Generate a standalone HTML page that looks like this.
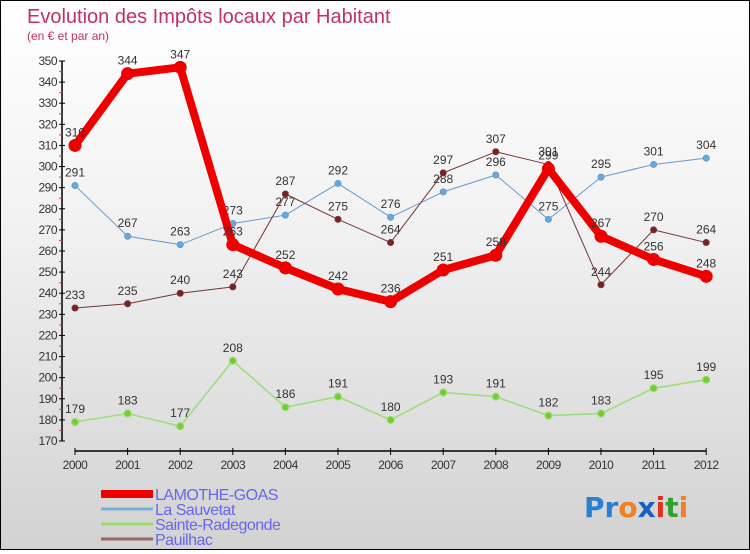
<!DOCTYPE html>
<html><head><meta charset="utf-8"><style>
html,body{margin:0;padding:0;}
body{width:750px;height:550px;overflow:hidden;font-family:"Liberation Sans",sans-serif;}
#wrap{position:relative;width:748px;height:548px;border:1px solid #000;background:linear-gradient(#ffffff 0%,#f2f2f2 40%,#d2d2d2 100%);}
</style></head><body>
<div id="wrap">
<svg id="chart" width="748" height="548" xmlns="http://www.w3.org/2000/svg">
<text x="26" y="22" font-size="20" fill="#c0306a">Evolution des Impôts locaux par Habitant</text>
<text x="26" y="39" font-size="12" fill="#c0306a">(en € et par an)</text>
<g id="axes"></g>
<g id="series"></g>
<g id="legend"></g>
<text x="583" y="516" font-size="28" font-weight="bold" font-family="'DejaVu Sans',sans-serif"><tspan fill="#2a7fd4">Pr</tspan><tspan fill="#f08020">o</tspan><tspan fill="#1a5fc4">x</tspan><tspan fill="#e03020">i</tspan><tspan fill="#30a030">t</tspan><tspan fill="#f08020">i</tspan></text>
</svg>
</div>
<script>
const years=["2000","2001","2002","2003","2004","2005","2006","2007","2008","2009","2010","2011","2012"];
const lamothe=[310,344,347,263,252,242,236,251,258,299,267,256,248];
const sauvetat=[291,267,263,273,277,292,276,288,296,275,295,301,304];
const radegonde=[179,183,177,208,186,191,180,193,191,182,183,195,199];
const pauilhac=[233,235,240,243,287,275,264,297,307,301,244,270,264];
const yTicks=[170,180,190,200,210,220,230,240,250,260,270,280,290,300,310,320,330,340,350];
const seriesNames=["LAMOTHE-GOAS","La Sauvetat","Sainte-Radegonde","Pauilhac"];

const NS="http://www.w3.org/2000/svg";
const xs=i=>74+i*52.6;
const ys=v=>440-(v-170)*(380/180);
function mk(tag,attrs,parent){const e=document.createElementNS(NS,tag);for(const k in attrs)e.setAttribute(k,attrs[k]);parent.appendChild(e);return e;}
const axes=document.getElementById('axes'),series=document.getElementById('series'),legend=document.getElementById('legend');

let ya=mk('line',{x1:61,y1:ys(350),x2:61,y2:ys(170),stroke:'#000','stroke-width':1.5},axes);


yTicks.forEach(t=>{
  mk('line',{x1:58,x2:64,y1:ys(t),y2:ys(t),stroke:'#000'},axes);
  if(t<350){mk('line',{x1:58,x2:61,y1:ys(t+5),y2:ys(t+5),stroke:'#e33'},axes);}
  let tx=mk('text',{x:56,y:ys(t)+4,'font-size':12,'text-anchor':'end',fill:'#333','letter-spacing':'-0.5'},axes);
  tx.textContent=t;
  
  
});
let xa=mk('line',{x1:xs(0),y1:450,x2:xs(12),y2:450,stroke:'#000','stroke-width':1.5},axes);


years.forEach((y,i)=>{
  mk('line',{x1:xs(i),x2:xs(i),y1:447,y2:454,stroke:'#000'},axes);
  let tx=mk('text',{x:xs(i),y:468,'font-size':12,'text-anchor':'middle',fill:'#333','letter-spacing':'-0.5'},axes);
  tx.textContent=y;
  
  
});

function drawSeries(vals,color,width,r,fill,name){
  const g=mk('g',{},series);
  
  
  mk('polyline',{points:vals.map((v,i)=>xs(i)+','+ys(v)).join(' '),fill:'none',stroke:color,'stroke-width':width,'stroke-linejoin':'round'},g);
  vals.forEach((v,i)=>{
    let c=mk('circle',{cx:xs(i),cy:ys(v),r:r,fill:fill,stroke:color,'stroke-width':1},g);
    
    
    let t=mk('text',{x:xs(i),y:ys(v)-9,'font-size':12,'text-anchor':'middle',fill:'#333'},g);
    t.textContent=v;
    
    
  });
}
drawSeries(radegonde,'#99dd77',1.5,3.5,'#77cc33','series-sainte-radegonde');
drawSeries(sauvetat,'#6699cc',1,3,'#66aadd','series-la-sauvetat');
drawSeries(pauilhac,'#773333',1,3,'#772222','series-pauilhac');
drawSeries(lamothe,'#ee0000',8,6,'#ee0000','series-lamothe-goas');

const legColors=['#ee0000','#7aaed6','#99dd66','#996666'];
const legW=[8,3,3,3];
seriesNames.forEach((n,i)=>{
  const y=493+i*15;
  const g=mk('g',{},legend);
  
  
  mk('line',{x1:100,x2:152,y1:y,y2:y,stroke:legColors[i],'stroke-width':legW[i]},g);
  let t=mk('text',{x:154,y:y+6,'font-size':16,fill:'#6666ee','letter-spacing':'-0.5'},g);
  t.textContent=n;
});
</script>
</body></html>
